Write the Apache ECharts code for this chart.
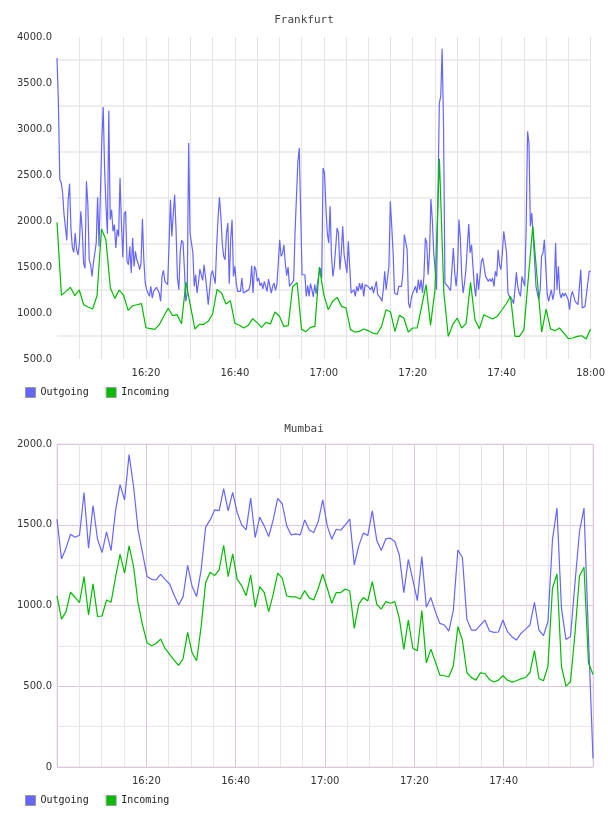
<!DOCTYPE html>
<html lang="en">
<head>
<meta charset="UTF-8">
<title>Frankfurt / Mumbai traffic</title>
<script src="https://cdn.jsdelivr.net/npm/echarts@6.0.0/dist/echarts.min.js"></script>
<style>
    body, html { margin: 0; padding: 0; background: #ffffff; }
    #chart { width: 608px; height: 816px; }
</style>
</head>
<body>
<div id="chart"></div>
<script>
// both panels run 16:00 -> 18:00, x values are minutes after 16:00
const startHour = 16;
const spanMinutes = 120;
const seriesNames = ['Outgoing', 'Incoming'];

// Frankfurt, outgoing (~19 s samples)
const fraOut = [
    3772, 3292, 2449, 2420, 2304, 2076, 2058, 1790, 2232, 2406,
    1906, 1706, 1659, 1869, 1688, 1630, 1761, 2105, 1906, 1543,
    1485, 2431, 2196, 1579, 1525, 1398, 1543, 1561, 1761, 2257,
    1724, 1742, 2884, 3239, 2558, 2159, 1862, 3199, 2014, 2123,
    1888, 1960, 1706, 1906, 1833, 2467, 1980, 1605, 2076, 2105,
    1561, 1525, 1724, 1435, 1815, 1507, 1670, 1579, 1536, 1471,
    1543, 2022, 1579, 1326, 1254, 1272, 1181, 1290, 1163, 1235,
    1217, 1279, 1272, 1217, 1127, 1398, 1464, 1344, 1362, 1308,
    1742, 2232, 1833, 2069, 2286, 1906, 1380, 1254, 1670, 1790,
    1768, 1471, 1127, 1217,
    2848, 1869, 1761, 1659, 1290, 1416, 1217, 1326, 1478, 1416,
    1355, 1525, 1398, 1254, 1090, 1254, 1416, 1464, 1453, 1319,
    1724, 2032, 2257, 2051, 1761, 1616, 1579, 1869, 1978, 1319,
    1797, 2014, 1398, 1507, 1326, 1235, 1217, 1235, 1380, 1217,
    1217, 1235, 1235, 1254, 1308, 1514, 1217, 1507, 1471, 1344,
    1380, 1297, 1326, 1261, 1344, 1290, 1235, 1369, 1362, 1217,
    1290, 1326, 1246, 1308, 1543, 1797, 1616, 1645, 1742, 1543,
    1406, 1500, 1290, 1308, 1333, 1355, 1888, 1906, 2648, 2793,
    2087, 1416, 1398, 1416, 1181, 1297, 1181, 1319, 1254, 1174,
    1308, 1210, 1326, 1416, 1489, 1380, 2576,
    2522, 2159, 1869, 1761, 2159, 1616, 1398, 1507, 1525, 1924,
    1869, 1471, 1652, 1942, 1634, 1616, 1435, 1779, 1507, 1217,
    1217, 1253, 1181, 1290, 1235, 1326, 1253, 1326, 1181, 1308,
    1319, 1290, 1290, 1253, 1290, 1217, 1210, 1344, 1199, 1181,
    1163, 1127, 1253, 1453, 1253, 1253, 1507, 2214, 1942, 1652,
    1217, 1199, 1199, 1290, 1290, 1290, 1435, 1851, 1851, 1688,
    1109, 1054, 1163, 1217, 1253, 1290, 1217, 1362, 1253, 1362,
    1217, 1398, 1815, 1761, 1417, 1652, 2239, 2015, 1652, 1471,
    1253, 1235, 3282, 3355, 3873, 3029, 1326, 1326, 1290, 1271,
    1243, 1246, 1706, 1435, 1290, 1471, 2015, 1815, 1398, 1217,
    1326, 1471, 1724, 1967, 1652, 1742, 1507, 1290, 1181, 1435,
    1253, 1398, 1561, 1597, 1579, 1398, 1398, 1344, 1369, 1344,
    1380, 1290, 1453, 1398, 1688, 1525, 1471, 1652, 1887, 1906,
    1652, 1217, 1181, 1199, 1145, 1101, 1253, 1442, 1290, 1217,
    1181, 1398, 1398, 1290, 1942, 2974, 2848, 1942, 2087, 2069,
    1579, 1290, 1217, 1145, 1253, 1616, 1652, 1797, 1507, 1217,
    1127, 1127, 1253, 1145, 1217, 1761, 1253, 1507, 1217, 1163,
    1217, 1181, 1217, 1199, 1145, 1036, 1181, 1235, 1181, 1127,
    1109, 1091, 1091, 1471, 1054, 1054, 1072, 1199, 1210, 1453,
    1453
];

// Frankfurt, incoming (1 min samples)
const fraIn = [
    1985, 1192, 1235, 1279, 1188, 1250, 1090, 1066, 1043, 1188,
    1913, 1797, 1272, 1159, 1250, 1188, 1029, 1079, 1090, 1101,
    840, 831, 822, 873, 964, 1051, 971, 982, 884, 1337,
    1080, 826, 877, 877, 909, 989, 1257, 1217, 1098, 1134,
    888, 866, 837, 866, 938, 895, 844, 898, 880, 1011,
    967, 855, 862, 1286, 1330, 822, 797, 844, 855, 1500,
    1199, 1036, 1127, 1170, 1072, 1054, 819, 793, 800, 826,
    808, 782, 772, 855, 1036, 1011, 800, 974, 946, 793,
    837, 837, 1070, 1308, 866, 1250, 2677, 1217, 746, 873,
    946, 837, 884, 1333, 927, 830, 982, 956, 935, 964,
    1030, 1098, 1181, 746, 746, 819, 1380, 1942, 1370, 793,
    1043, 826, 808, 837, 782, 721, 728, 746, 753, 717,
    826
];

// Mumbai, outgoing
const mumOut = [
    1534, 1288, 1355, 1441, 1423, 1435, 1700, 1355, 1619, 1410,
    1328, 1456, 1340, 1588, 1748, 1654, 1934, 1737, 1468, 1324,
    1179, 1162, 1158, 1193, 1162, 1133, 1065, 1003, 1055, 1249,
    1117, 1055, 1220, 1485, 1530, 1592, 1588, 1723, 1586, 1700,
    1576, 1499, 1468, 1665, 1421, 1547, 1493, 1427, 1530, 1663,
    1630, 1493, 1437, 1444, 1437, 1530, 1468, 1452, 1520, 1654,
    1493, 1410, 1472, 1466, 1499, 1535, 1251, 1369, 1448, 1433,
    1586, 1402, 1340, 1413, 1417, 1396, 1313, 1080, 1286, 1158,
    1030, 1303, 989, 1049, 962, 889, 879, 842, 972, 1344,
    1297, 914, 848, 848, 879, 910, 842, 834, 836, 910,
    838, 807, 786, 827, 852, 879, 1020, 848, 813, 900,
    1406, 1603, 982, 790, 807, 1138, 1458, 1603, 800, 52
];

// Mumbai, incoming
const mumIn = [
    1059, 916, 962, 1082, 1051, 1018, 1179, 941, 1134, 933,
    935, 1034, 1020, 1175, 1317, 1200, 1369, 1241, 1014, 879,
    769, 751, 765, 792, 734, 697, 662, 629, 672, 834,
    707, 658, 869, 1142, 1206, 1185, 1220, 1373, 1179, 1320,
    1162, 1123, 1061, 1189, 989, 1117, 1082, 962, 1069, 1200,
    1169, 1059, 1053, 1053, 1040, 1092, 1047, 1034, 1107, 1195,
    1107, 1014, 1080, 1080, 1102, 1090, 858, 1009, 1049, 1028,
    1148, 1007, 978, 1024, 1014, 1024, 920, 728, 910, 734,
    720, 968, 645, 730, 652, 569, 565, 559, 627, 869,
    786, 585, 554, 538, 583, 579, 542, 526, 538, 565,
    538, 526, 534, 546, 554, 585, 720, 548, 534, 625,
    1107, 1195, 621, 501, 528, 827, 1183, 1237, 645, 573
];

const outColor = '#6666ff';
const inColor = '#00bb00';
const axisText = { fontFamily: 'DejaVu Sans', fontSize: 10, color: '#333333' };
const monoText = { fontFamily: 'DejaVu Sans Mono', fontSize: 10, color: '#222222' };

// evenly spaced samples over the two hours
function toPoints(values) {
    const step = spanMinutes / (values.length - 1);
    return values.map((v, i) => [i * step, v]);
}

function clock(m) {
    const h = startHour + Math.floor(m / 60);
    const mm = m % 60;
    return h + ':' + (mm < 10 ? '0' : '') + mm;
}

function timeLabel(v) {
    return (v > 0 && v % 20 === 0) ? clock(v) : '';
}

function valueLabel(v) {
    if (v % 500 !== 0) return '';
    return v === 0 ? '0' : v.toFixed(1);
}

function xAxisFor(gridIndex, colors, showLast) {
    return {
        type: 'value', gridIndex: gridIndex,
        min: 0, max: spanMinutes, interval: 5,
        axisLine: { show: false }, axisTick: { show: false },
        axisLabel: Object.assign({ formatter: timeLabel, margin: 9, showMaxLabel: showLast }, axisText),
        splitLine: { show: true, showMinLine: gridIndex === 1, lineStyle: { color: colors, width: 1 } }
    };
}

function yAxisFor(gridIndex, min, max, colors, width) {
    return {
        type: 'value', gridIndex: gridIndex,
        min: min, max: max, interval: 250,
        axisLine: { show: false }, axisTick: { show: false },
        axisLabel: Object.assign({ formatter: valueLabel, margin: 5 }, axisText),
        splitLine: { show: true, lineStyle: { color: colors, width: width } }
    };
}

function lineSeries(name, values, color, idx) {
    return {
        name: name, type: 'line', xAxisIndex: idx, yAxisIndex: idx,
        data: toPoints(values),
        showSymbol: false, symbol: 'none',
        itemStyle: { color: color },
        lineStyle: { color: color, width: 1.2 }
    };
}

function legendAt(top) {
    return {
        left: 25, top: top, padding: 0,
        data: seriesNames, icon: 'rect',
        itemWidth: 10, itemHeight: 10, itemGap: 17,
        itemStyle: { borderColor: '#999999', borderWidth: 1 },
        textStyle: monoText
    };
}

const purpleMajor = '#dcc6dc';
const purpleMinor = '#ece2ec';
const titleText = { fontFamily: 'DejaVu Sans Mono', fontSize: 11, fontWeight: 'normal', color: '#444444' };

const chart = echarts.init(document.getElementById('chart'));
chart.setOption({
    animation: false,
    backgroundColor: '#ffffff',
    title: [
        { text: 'Frankfurt', left: 'center', top: 15, padding: 0, textStyle: titleText },
        { text: 'Mumbai', left: 'center', top: 424, padding: 0, textStyle: titleText }
    ],
    legend: [legendAt(387), legendAt(795)],
    grid: [
        { left: 57, right: 16, top: 37, height: 322 },
        { left: 57, right: 15, top: 444, height: 323, show: true, borderColor: '#eadcea', borderWidth: 1 }
    ],
    xAxis: [
        xAxisFor(0, '#e4e4e4', true),
        xAxisFor(1, [purpleMajor, purpleMinor, purpleMinor, purpleMinor], false)
    ],
    yAxis: [
        yAxisFor(0, 500, 4000, ['rgba(0,0,0,0)', '#eeeeee'], 2),
        yAxisFor(1, 0, 2000, [purpleMajor, purpleMinor], 1)
    ],
    series: [
        lineSeries('Outgoing', fraOut, outColor, 0),
        lineSeries('Incoming', fraIn, inColor, 0),
        lineSeries('Outgoing', mumOut, outColor, 1),
        lineSeries('Incoming', mumIn, inColor, 1)
    ]
});
</script>
</body>
</html>
